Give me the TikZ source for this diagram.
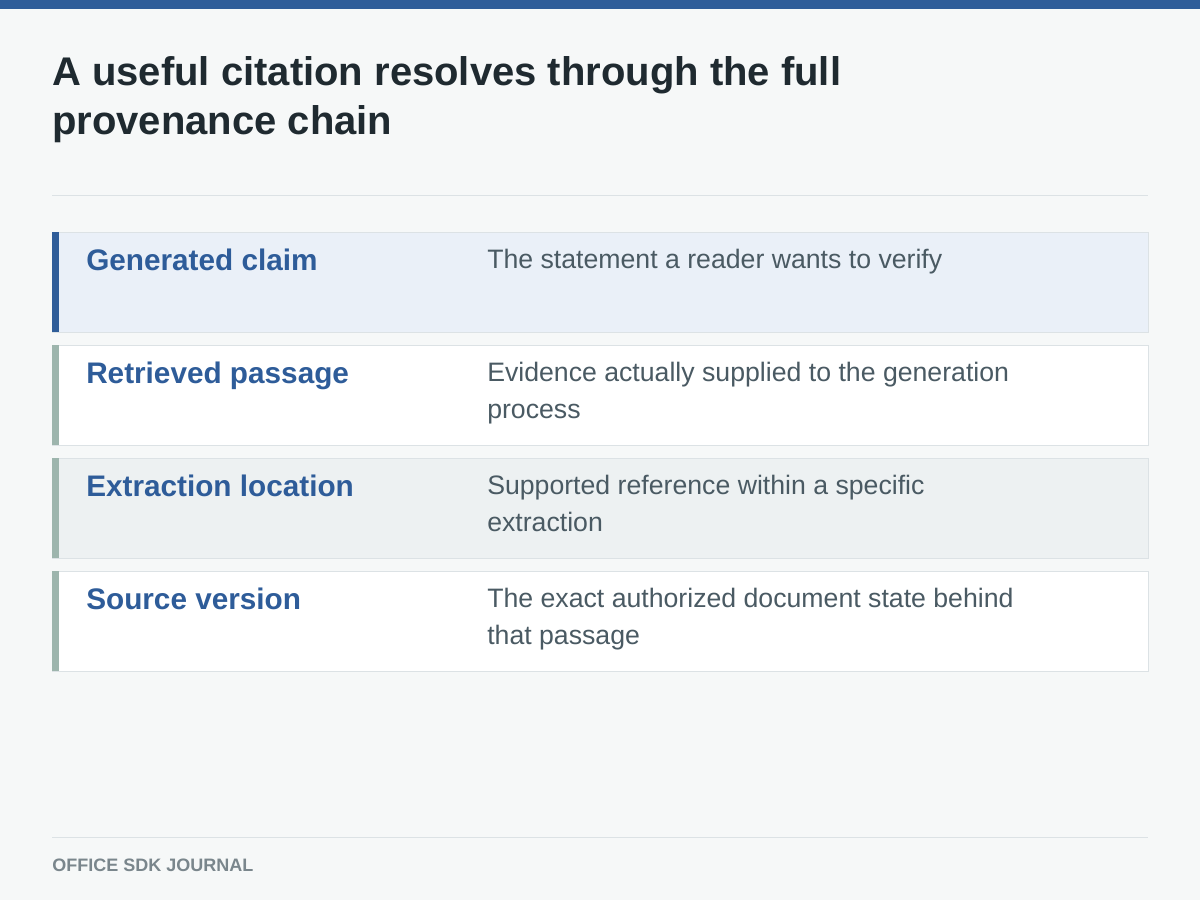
\documentclass[tikz,border=0pt]{standalone}
\usepackage{fontspec}
\setmainfont{Liberation Sans}
\definecolor{bg}{HTML}{F6F8F8}
\definecolor{topbar}{HTML}{2F5D99}
\definecolor{titlec}{HTML}{1F2A30}
\definecolor{labc}{HTML}{2E5C99}
\definecolor{descc}{HTML}{4A5A63}
\definecolor{rowa}{HTML}{EAF0F8}
\definecolor{rowc}{HTML}{EDF1F2}
\definecolor{barg}{HTML}{9DB5AD}
\definecolor{bord}{HTML}{DCE2E5}
\definecolor{footc}{HTML}{7A868C}
\begin{document}
\begin{tikzpicture}[x=0.75pt,y=-0.75pt,
  lab/.style={anchor=base west,text=labc,font=\fontsize{22.3}{26}\selectfont\bfseries,inner sep=0},
  desc/.style={anchor=base west,text=descc,font=\fontsize{20}{27.75}\selectfont,inner sep=0,align=left},
  row/.style={draw=bord,line width=0.75pt}]
\useasboundingbox (0,0) rectangle (1200,900);
\fill[bg] (0,0) rectangle (1200,900);
\fill[topbar] (0,0) rectangle (1200,9);
\node[anchor=base west,inner sep=0,text=titlec,align=left,font=\fontsize{30}{36.75}\selectfont\bfseries] (title) at (52,134) {A useful citation resolves through the full\\provenance chain};
\draw[bord,line width=0.75pt] (52,195) -- (1148,195);
% rows
\filldraw[row,fill=rowa] (52,232) rectangle (1148,332);
\fill[topbar] (52,232) rectangle (59,332);
\filldraw[row,fill=white] (52,345) rectangle (1148,445);
\fill[barg] (52,345) rectangle (59,445);
\filldraw[row,fill=rowc] (52,458) rectangle (1148,558);
\fill[barg] (52,458) rectangle (59,558);
\filldraw[row,fill=white] (52,571) rectangle (1148,671);
\fill[barg] (52,571) rectangle (59,671);
\node[lab] (l1) at (86,270) {Generated claim};
\node[lab] (l2) at (86,383) {Retrieved passage};
\node[lab] (l3) at (86,496) {Extraction location};
\node[lab] (l4) at (86,609) {Source version};
\node[desc] (d1) at (487,268) {The statement a reader wants to verify};
\node[desc] (d2) at (487,418) {Evidence actually supplied to the generation\\process};
\node[desc] (d3) at (487,531) {Supported reference within a specific\\extraction};
\node[desc] (d4) at (487,644) {The exact authorized document state behind\\that passage};
\draw[bord,line width=0.75pt] (52,837) -- (1148,837);
\node[anchor=base west,inner sep=0,text=footc,font=\fontsize{13.5}{15}\selectfont\bfseries] (foot) at (52,871) {OFFICE SDK JOURNAL};
\end{tikzpicture}
\end{document}
